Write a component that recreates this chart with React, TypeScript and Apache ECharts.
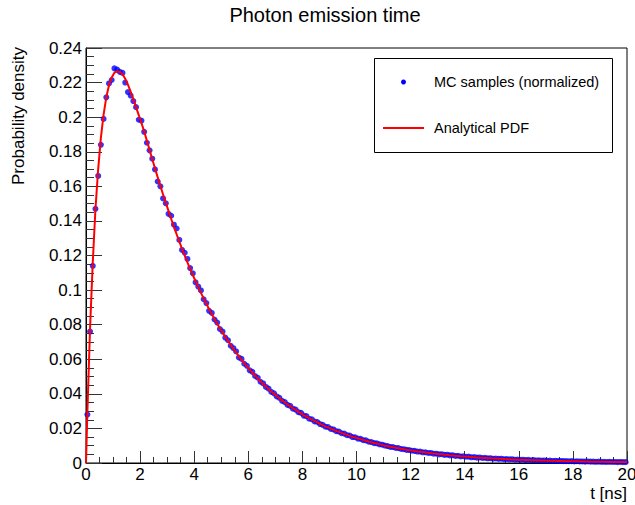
import React, { useEffect, useRef } from "react";
import * as echarts from "echarts";

// Histogram binning (ns)
const BIN_WIDTH = 0.1;
const T_MAX = 20;

// MC samples (normalized), one value per 0.1 ns bin, bins 0..199
const mcValues = [
  0.028, 0.076, 0.114, 0.147, 0.166, 0.184, 0.199, 0.2115, 0.2195, 0.2215,
  0.2282, 0.2275, 0.2262, 0.2256, 0.22, 0.2145, 0.2125, 0.2093, 0.2058, 0.1985,
  0.198, 0.1915, 0.1852, 0.1808, 0.176, 0.1698, 0.1628, 0.16, 0.153, 0.1502,
  0.1441, 0.143, 0.1378, 0.1356, 0.129, 0.1232, 0.1216, 0.118, 0.1127, 0.1097,
  0.1045, 0.102, 0.0998, 0.0947, 0.0925, 0.088, 0.0868, 0.083, 0.0812, 0.0775,
  0.076, 0.0725, 0.071, 0.0678, 0.0664, 0.0645, 0.061, 0.0602, 0.0574, 0.0562,
  0.0536, 0.0527, 0.0503, 0.0493, 0.047, 0.046, 0.044, 0.043, 0.0411, 0.0403,
  0.0385, 0.0377, 0.0359, 0.0352, 0.0336, 0.033, 0.0314, 0.0309, 0.0294, 0.029,
  0.0274, 0.0271, 0.0256, 0.0253, 0.024, 0.0237, 0.0225, 0.0221, 0.021, 0.0208,
  0.0197, 0.0194, 0.0184, 0.0182, 0.0172, 0.017, 0.0161, 0.0159, 0.015, 0.0149,
  0.0141, 0.014, 0.0132, 0.0131, 0.0123, 0.0121, 0.0115, 0.0114, 0.0108, 0.0106,
  0.0101, 0.0098, 0.0093, 0.0092, 0.0087, 0.0086, 0.0081, 0.008, 0.0076, 0.0075,
  0.0071, 0.007, 0.0066, 0.0066, 0.0062, 0.0062, 0.0058, 0.0058, 0.0054, 0.0054,
  0.005, 0.0051, 0.0047, 0.0048, 0.0044, 0.0045, 0.0041, 0.0042, 0.0038, 0.0039,
  0.0036, 0.0037, 0.0033, 0.0034, 0.0031, 0.0032, 0.0029, 0.003, 0.0027, 0.0028,
  0.0025, 0.0026, 0.0024, 0.0025, 0.0022, 0.0023, 0.0021, 0.0022, 0.0019, 0.002,
  0.0018, 0.0019, 0.0017, 0.0018, 0.0016, 0.0017, 0.0015, 0.0016, 0.0014, 0.0015,
  0.0013, 0.0014, 0.0012, 0.0013, 0.0012, 0.0012, 0.0011, 0.0011, 0.001, 0.0011,
  0.0009, 0.001, 0.0009, 0.0009, 0.0008, 0.0009, 0.0008, 0.0008, 0.0007, 0.0008,
  0.0007, 0.0007, 0.0006, 0.0007, 0.0006, 0.0006, 0.0005, 0.0006, 0.0005, 0.0005,
];

// Analytical PDF: value at t = 0, at each bin centre, and at t = 20
const pdfAtZero = 0;
const pdfAtEnd = 0.0005;
const pdfValues = [
  0.029, 0.078, 0.116, 0.147, 0.17, 0.188, 0.2015, 0.2115, 0.2185, 0.223,
  0.2257, 0.2265, 0.2262, 0.2248, 0.2222, 0.2188, 0.2148, 0.2104, 0.2058, 0.2012,
  0.1966, 0.1918, 0.1864, 0.1811, 0.1757, 0.1705, 0.1653, 0.1602, 0.1553, 0.1505,
  0.1458, 0.1411, 0.1366, 0.1323, 0.128, 0.1239, 0.1199, 0.116, 0.1122, 0.1086,
  0.1051, 0.1017, 0.0984, 0.0952, 0.0921, 0.089, 0.0862, 0.0833, 0.0806, 0.0779,
  0.0754, 0.0729, 0.0706, 0.0682, 0.066, 0.0639, 0.0617, 0.0597, 0.0577, 0.0559,
  0.0541, 0.0522, 0.0506, 0.0489, 0.0473, 0.0457, 0.0443, 0.0427, 0.0414, 0.04,
  0.0388, 0.0374, 0.0362, 0.035, 0.0339, 0.0327, 0.0317, 0.0307, 0.0297, 0.0287,
  0.0277, 0.0268, 0.0259, 0.0251, 0.0243, 0.0235, 0.0227, 0.0219, 0.0212, 0.0206,
  0.0199, 0.0192, 0.0186, 0.018, 0.0174, 0.0168, 0.0163, 0.0157, 0.0152, 0.0147,
  0.0143, 0.0138, 0.0134, 0.0129, 0.0124, 0.012, 0.0116, 0.0113, 0.0109, 0.0105,
  0.01, 0.0097, 0.0094, 0.0091, 0.0088, 0.0085, 0.0082, 0.0079, 0.0077, 0.0074,
  0.0072, 0.0069, 0.0067, 0.0065, 0.0063, 0.0061, 0.0059, 0.0057, 0.0055, 0.0053,
  0.0051, 0.005, 0.0048, 0.0047, 0.0045, 0.0044, 0.0042, 0.0041, 0.0039, 0.0038,
  0.0037, 0.0036, 0.0034, 0.0033, 0.0032, 0.0031, 0.003, 0.0029, 0.0028, 0.0027,
  0.0026, 0.00255, 0.00247, 0.00239, 0.00231, 0.00223, 0.00216, 0.00209, 0.00202, 0.00195,
  0.00189, 0.00183, 0.00177, 0.00171, 0.00166, 0.0016, 0.00155, 0.0015, 0.00145, 0.0014,
  0.00136, 0.00131, 0.00127, 0.00123, 0.00119, 0.00115, 0.00111, 0.00107, 0.00104, 0.001,
  0.00097, 0.00094, 0.00091, 0.00088, 0.00085, 0.00082, 0.00079, 0.00077, 0.00074, 0.00072,
  0.0007, 0.00067, 0.00065, 0.00063, 0.00061, 0.00059, 0.00057, 0.00055, 0.00053, 0.00052,
];

const xTicks = { min: 0, max: 20, interval: 2 };
const yTicks = { min: 0, max: 0.24, interval: 0.02 };

const TITLE = "Photon emission time";
const X_TITLE = "t [ns]";
const Y_TITLE = "Probability density";
const LEGEND_MC = "MC samples (normalized)";
const LEGEND_PDF = "Analytical PDF";

const FONT = "'Liberation Sans', Helvetica, Arial, sans-serif";
const TICK_COLOR = "#333";

export default function App() {
  const ref = useRef<HTMLDivElement>(null);

  useEffect(() => {
    if (!ref.current) return;
    const chart = echarts.init(ref.current, undefined, { renderer: "svg" });

    const binCentre = (i: number) => +(BIN_WIDTH * (i + 0.5)).toFixed(3);
    const mcData = mcValues.map((v, i) => [binCentre(i), v]);
    const pdfData = [
      [0, pdfAtZero],
      ...pdfValues.map((v, i) => [binCentre(i), v]),
      [T_MAX, pdfAtEnd],
    ];

    const axisCommon = {
      axisLine: { show: true, onZero: false, lineStyle: { color: "#000", width: 1 } },
      splitLine: { show: false },
    };

    chart.setOption({
      animation: false,
      backgroundColor: "#fff",
      grid: {
        left: 86,
        right: 8,
        top: 48,
        bottom: 42,
        show: true,
        borderColor: "#000",
        borderWidth: 1,
        backgroundColor: "transparent",
        containLabel: false,
        outerBoundsMode: "none",
      },
      xAxis: {
        type: "value",
        min: xTicks.min,
        max: xTicks.max,
        interval: xTicks.interval,
        ...axisCommon,
        axisTick: { show: true, inside: true, length: 12, lineStyle: { color: TICK_COLOR } },
        minorTick: { show: true, splitNumber: 4, length: 6, lineStyle: { color: TICK_COLOR } },
        axisLabel: { color: "#000", fontSize: 17, fontFamily: FONT, margin: 3 },
      },
      yAxis: {
        type: "value",
        min: yTicks.min,
        max: yTicks.max,
        interval: yTicks.interval,
        ...axisCommon,
        axisTick: { show: true, inside: true, length: 16, lineStyle: { color: TICK_COLOR } },
        minorTick: { show: true, splitNumber: 4, length: 8, lineStyle: { color: TICK_COLOR } },
        axisLabel: { color: "#000", fontSize: 17, fontFamily: FONT, margin: 4 },
      },
      series: [
        {
          name: LEGEND_MC,
          type: "scatter",
          data: mcData,
          symbol: "circle",
          symbolSize: 6,
          itemStyle: { color: "#0000ff" },
          z: 2,
        },
        {
          name: LEGEND_PDF,
          type: "line",
          data: pdfData,
          showSymbol: false,
          symbol: "none",
          lineStyle: { color: "#ff0000", width: 2 },
          z: 3,
        },
      ],
      graphic: [
        {
          type: "text",
          x: 325,
          y: 15,
          silent: true,
          style: {
            text: TITLE,
            fill: "#000",
            font: `20px ${FONT}`,
            textAlign: "center",
            textVerticalAlign: "middle",
          },
        },
        {
          type: "text",
          x: 627,
          y: 493,
          silent: true,
          style: {
            text: X_TITLE,
            fill: "#000",
            font: `17px ${FONT}`,
            textAlign: "right",
            textVerticalAlign: "middle",
          },
        },
        {
          type: "text",
          x: 18,
          y: 47,
          rotation: Math.PI / 2,
          silent: true,
          style: {
            text: Y_TITLE,
            fill: "#000",
            font: `17px ${FONT}`,
            textAlign: "right",
            textVerticalAlign: "middle",
          },
        },
        {
          type: "group",
          silent: true,
          children: [
            {
              type: "rect",
              shape: { x: 374.5, y: 58.5, width: 238, height: 94 },
              style: { fill: "#fff", stroke: "#000", lineWidth: 1 },
              z: 10,
            },
            {
              type: "circle",
              shape: { cx: 403.5, cy: 82, r: 2.5 },
              style: { fill: "#0000ff" },
              z: 11,
            },
            {
              type: "text",
              x: 434,
              y: 82,
              style: {
                text: LEGEND_MC,
                fill: "#000",
                font: `14.5px ${FONT}`,
                textAlign: "left",
                textVerticalAlign: "middle",
              },
              z: 11,
            },
            {
              type: "line",
              shape: { x1: 383, y1: 128, x2: 424, y2: 128 },
              style: { stroke: "#ff0000", lineWidth: 2 },
              z: 11,
            },
            {
              type: "text",
              x: 434,
              y: 128,
              style: {
                text: LEGEND_PDF,
                fill: "#000",
                font: `14.5px ${FONT}`,
                textAlign: "left",
                textVerticalAlign: "middle",
              },
              z: 11,
            },
          ],
        },
      ],
    });

    return () => chart.dispose();
  }, []);

  return (
    <div
      ref={ref}
      style={{ position: "absolute", left: 0, top: 0, width: 635, height: 505, background: "#fff" }}
    />
  );
}
